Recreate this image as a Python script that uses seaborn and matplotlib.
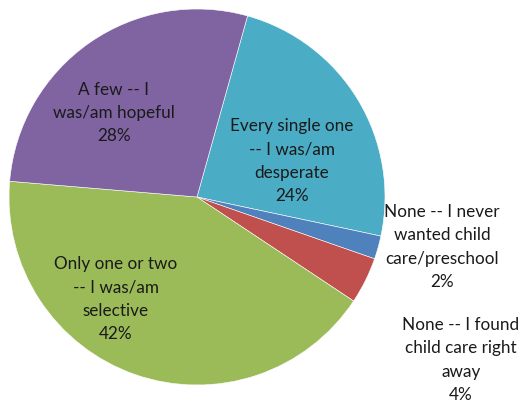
import matplotlib
matplotlib.use("Agg")
import matplotlib.pyplot as plt
import seaborn as sns
import numpy as np

categories = [
    "Every single one\n-- I was/am\ndesperate",
    "None -- I never\nwanted child\ncare/preschool",
    "None -- I found\nchild care right\naway",
    "Only one or two\n-- I was/am\nselective",
    "A few -- I\nwas/am hopeful",
]
values = [24, 2, 4, 42, 28]
colors = ["#4BACC6", "#4F81BD", "#C0504D", "#9BBB59", "#8064A2"]

# label centres in figure pixels (x from left, y from top)
label_pos = [(292, 161), (442, 247), (461, 360), (116, 299), (114, 113)]

sns.set_theme(style="white")
plt.rcParams["font.family"] = ["Lato", "DejaVu Sans"]

W, H = 521, 402
fig = plt.figure(figsize=(W / 100, H / 100), dpi=100)
ax = fig.add_axes([0, 0, 1, 1])
cx, cy, R = 197, 198, 188
ax.pie(values, colors=colors, startangle=74.4, counterclock=False,
       radius=1, center=(0, 0),
       wedgeprops=dict(linewidth=0.4, edgecolor="white"))
ax.set_xlim(-cx / R, (W - cx) / R)
ax.set_ylim(-(H - cy) / R, cy / R)
ax.set_aspect("auto")
ax.axis("off")

for cat, v, (px, py) in zip(categories, values, label_pos):
    fig.text(px / W, 1 - py / H, f"{cat}\n{v}%", ha="center", va="center",
             fontsize=12.3, color="#1a1a1a", linespacing=1.55)

fig.savefig("out.png", dpi=100)
